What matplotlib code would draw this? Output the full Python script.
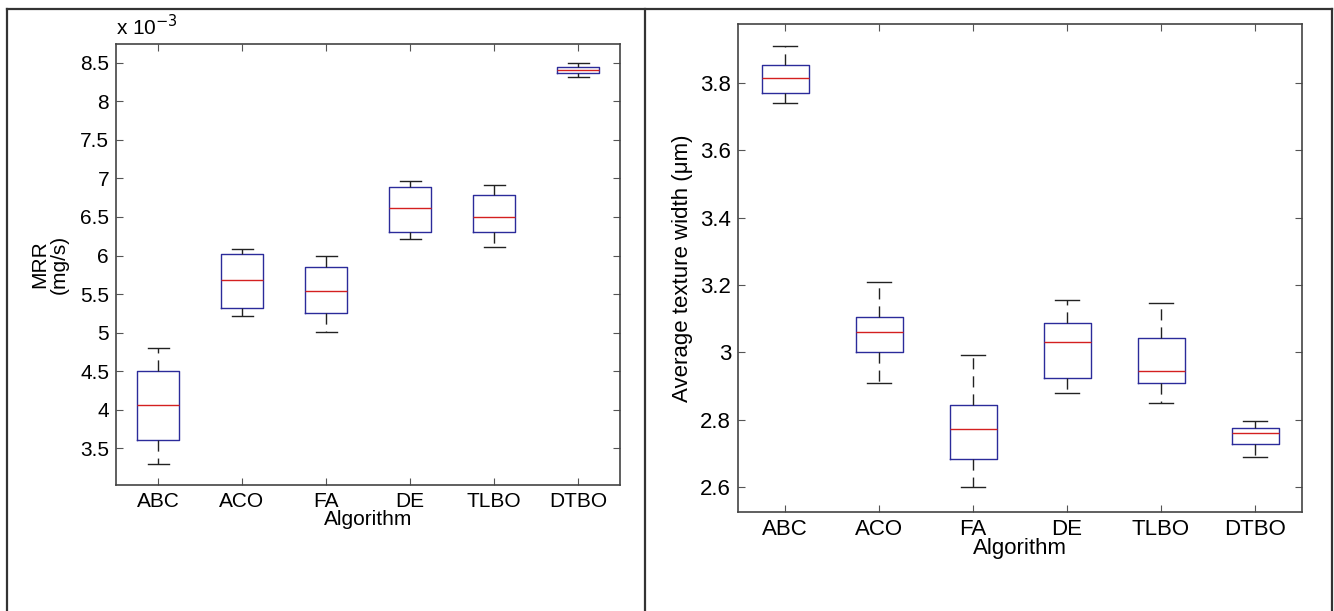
import matplotlib
matplotlib.use('Agg')
import matplotlib.pyplot as plt
from matplotlib.lines import Line2D
from matplotlib.ticker import FuncFormatter

plt.rcParams['font.family'] = ['Liberation Sans', 'DejaVu Sans']
plt.rcParams['lines.scale_dashes'] = False

algorithms = ['ABC', 'ACO', 'FA', 'DE', 'TLBO', 'DTBO']

# MRR (x 10^-3 mg/s)
mrr_low = [3.29, 5.21, 5.01, 6.21, 6.11, 8.31]
mrr_q1 = [3.61, 5.32, 5.26, 6.30, 6.30, 8.37]
mrr_med = [4.06, 5.68, 5.54, 6.61, 6.50, 8.40]
mrr_q3 = [4.50, 6.02, 5.85, 6.89, 6.78, 8.44]
mrr_high = [4.80, 6.09, 5.99, 6.97, 6.92, 8.50]

# average texture width (um)
atw_low = [3.74, 2.91, 2.60, 2.88, 2.85, 2.69]
atw_q1 = [3.77, 3.00, 2.685, 2.925, 2.91, 2.73]
atw_med = [3.815, 3.062, 2.773, 3.032, 2.946, 2.76]
atw_q3 = [3.853, 3.104, 2.845, 3.088, 3.042, 2.777]
atw_high = [3.909, 3.210, 2.993, 3.157, 3.147, 2.798]


def make_stats(low, q1, med, q3, high):
    return [dict(whislo=a, q1=b, med=c, q3=d, whishi=e, label=n)
            for a, b, c, d, e, n in zip(low, q1, med, q3, high, algorithms)]


def draw(ax, stats, ylim, fs):
    ax.bxp(stats, widths=0.5, capwidths=0.25, showfliers=False,
           boxprops=dict(color='#2b2b9a', linewidth=1.0),
           medianprops=dict(color='#d42020', linewidth=1.0),
           whiskerprops=dict(color='#222222', linewidth=1.0, linestyle=(0, (8, 5))),
           capprops=dict(color='#222222', linewidth=1.0))
    ax.set_xlim(0.5, 6.5)
    ax.set_ylim(*ylim)
    ax.tick_params(direction='in', top=True, right=True, length=5, width=0.8,
                   color='#555555', labelsize=fs, pad=5)
    ax.yaxis.set_major_formatter(FuncFormatter(lambda v, p: '%g' % round(v, 3)))
    for s in ax.spines.values():
        s.set_color('#444444')
        s.set_linewidth(1.2)
    ax.set_xlabel('Algorithm', fontsize=fs, labelpad=-1)


fig = plt.figure(figsize=(13.34, 6.11), dpi=100)

ax1 = fig.add_axes([116 / 1334, 1 - 485 / 611, 504 / 1334, 441 / 611])
draw(ax1, make_stats(mrr_low, mrr_q1, mrr_med, mrr_q3, mrr_high), (3.024, 8.743), 15)
ax1.set_yticks([3.5, 4, 4.5, 5, 5.5, 6, 6.5, 7, 7.5, 8, 8.5])
ax1.set_ylabel('MRR\n(mg/s)', fontsize=15, linespacing=1.05, labelpad=8)
ax1.text(0, 1.012, 'x 10$^{-3}$', transform=ax1.transAxes, fontsize=15,
         ha='left', va='bottom')

ax2 = fig.add_axes([738 / 1334, 1 - 511.7 / 611, 564 / 1334, 487.4 / 611])
draw(ax2, make_stats(atw_low, atw_q1, atw_med, atw_q3, atw_high), (2.528, 3.973), 16)
ax2.set_yticks([2.6, 2.8, 3.0, 3.2, 3.4, 3.6, 3.8])
ax2.set_ylabel('Average texture width (\u03bcm)', fontsize=16, labelpad=5)

# panel frames
for x in [7 / 1334, 645 / 1334, 1331.5 / 1334]:
    fig.add_artist(Line2D([x, x], [0, 1 - 9 / 611], color='#333333', linewidth=1.6))
fig.add_artist(Line2D([7 / 1334, 1331.5 / 1334], [1 - 9 / 611, 1 - 9 / 611],
                      color='#333333', linewidth=1.6))

fig.savefig('out.png', dpi=100)
